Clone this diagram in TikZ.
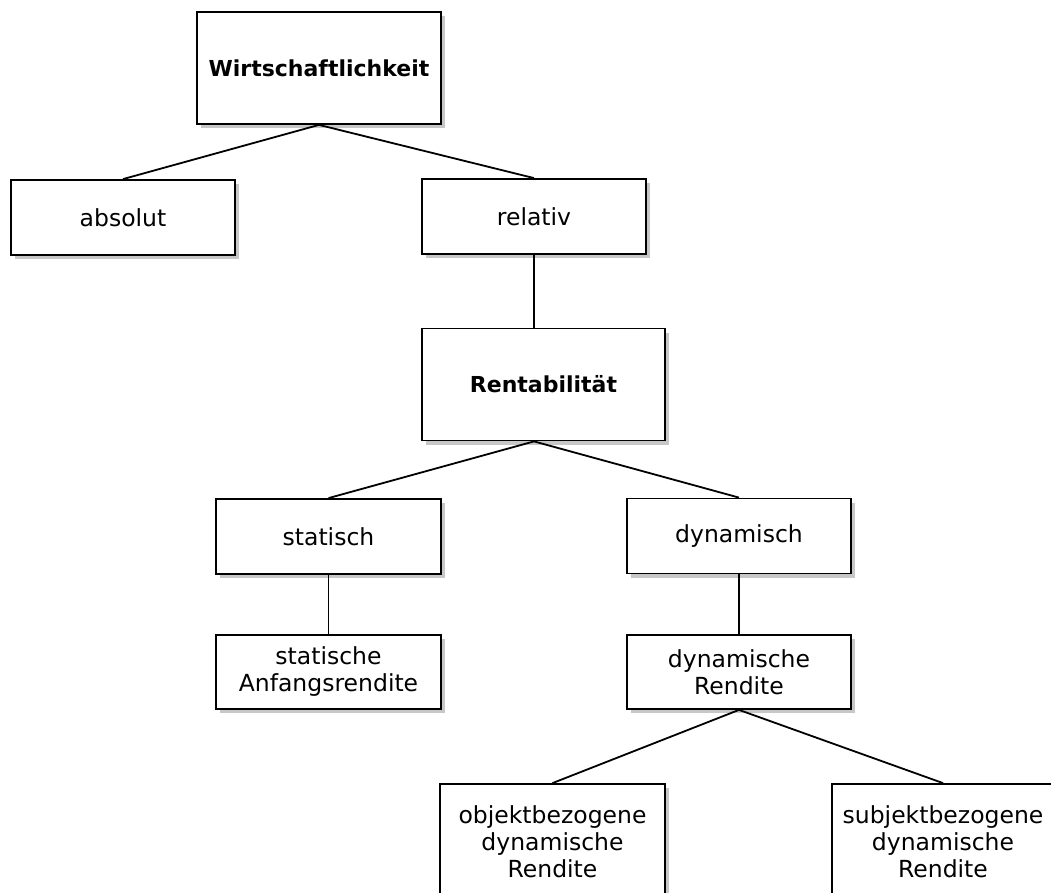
\documentclass[tikz,border=0pt]{standalone}
\usepackage{fontspec}
\setmainfont{DejaVu Sans}
\usetikzlibrary{shadows}
\begin{document}
\begin{tikzpicture}[x=1pt, y=-1pt,
  box/.style={draw, line width=1.8pt, fill=white, minimum width=224pt, minimum height=75pt,
    align=center, inner sep=2pt, font=\fontsize{23.5}{27}\selectfont,
    drop shadow={shadow xshift=4pt, shadow yshift=-4pt, fill=black!22, opacity=1}},
  bigbox/.style={box, minimum height=112pt, font=\fontsize{22}{26}\selectfont\bfseries},
  link/.style={line width=1.8pt}]
\useasboundingbox (0,0) rectangle (1051,893);
\fill[white] (0,0) rectangle (1051,893);
\clip (0,0) rectangle (1051,893);
\node[bigbox, minimum width=244pt] (wirt) at (319,68) {Wirtschaftlichkeit};
\node[box] (absolut) at (123,217.5) {absolut};
\node[box] (relativ) at (534,216.5) {relativ};
\node[bigbox, minimum width=243pt] (rent) at (543.5,384.5) {Rentabilität};
\node[box, minimum width=225pt] (statisch) at (328.5,536.5) {statisch};
\node[box] (dynamisch) at (739,536) {dynamisch};
\node[box, minimum width=225pt, minimum height=74pt] (statAnf) at (328.5,672) {statische\\Anfangsrendite};
\node[box, minimum height=74pt] (dynRend) at (739,672) {dynamische\\Rendite};
\node[box, minimum width=225pt, minimum height=116pt] (objekt) at (552.5,842) {objektbezogene\\dynamische\\Rendite};
\node[box, minimum width=222pt, minimum height=116pt] (subjekt) at (943,842) {subjektbezogene\\dynamische\\Rendite};
\draw[link] (wirt.south) -- (absolut.north);
\draw[link] (wirt.south) -- (relativ.north);
\draw[link] (relativ.south) -- (rent.north -| relativ.south);
\draw[link] (rent.south -| relativ.south) -- (statisch.north);
\draw[link] (rent.south -| relativ.south) -- (dynamisch.north);
\draw[link] (statisch.south) -- (statAnf.north);
\draw[link] (dynamisch.south) -- (dynRend.north);
\draw[link] (dynRend.south) -- (objekt.north);
\draw[link] (dynRend.south) -- (subjekt.north);
\end{tikzpicture}
\end{document}
